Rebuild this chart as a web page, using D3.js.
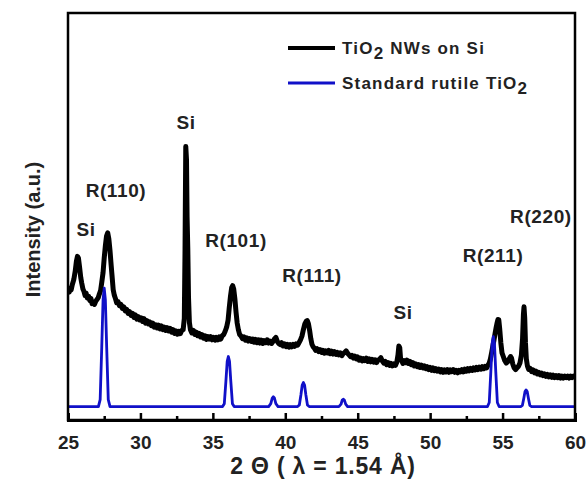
<!DOCTYPE html>
<html>
<head>
<meta charset="utf-8">
<script src="https://cdn.jsdelivr.net/npm/d3@7"></script>
<style>
  html, body { margin: 0; padding: 0; background: #fff; }
  svg { display: block; }
  text { font-family: Arial, "Liberation Sans", sans-serif; font-weight: bold; }
</style>
</head>
<body>
<svg id="chart" width="587" height="490"></svg>
<script>
// ---- Data ----
const xTicks = [25, 30, 35, 40, 45, 50, 55, 60];
const xMinorTicks = [27.5, 32.5, 37.5, 42.5, 47.5, 52.5, 57.5];

// Black measured pattern: [2θ, intensity (a.u.)]
const nwSeries = [
[25.00,319],[25.08,314],[25.15,324],[25.22,320],[25.30,333],[25.40,345],[25.50,366],[25.58,390],[25.65,402],[25.72,398],
[25.80,375],[25.88,350],[25.95,336],[26.03,322],[26.10,316],[26.18,306],[26.25,312],[26.33,300],[26.42,304],[26.50,294],
[26.58,299],[26.66,286],[26.75,290],[26.83,284],[26.92,292],[27.00,296],[27.08,300],[27.17,310],[27.25,318],[27.33,338],
[27.42,362],[27.50,398],[27.58,428],[27.66,452],[27.74,460],[27.82,445],[27.90,416],[27.98,380],[28.05,350],[28.12,320],
[28.20,306],[28.28,298],[28.36,288],[28.45,291],[28.55,281],[28.65,284],[28.75,274],[28.85,278],[28.95,268],[29.05,272],
[29.15,262],[29.25,266],[29.35,257],[29.45,262],[29.55,252],[29.65,258],[29.75,248],[29.85,254],[29.95,246],[30.05,251],
[30.15,242],[30.25,249],[30.35,238],[30.45,244],[30.55,236],[30.65,241],[30.75,232],[30.85,238],[30.95,228],[31.05,234],
[31.15,226],[31.25,233],[31.35,224],[31.45,231],[31.55,222],[31.65,228],[31.75,220],[31.85,227],[31.95,219],[32.05,225],
[32.15,216],[32.25,222],[32.35,213],[32.45,219],[32.55,211],[32.65,218],[32.75,212],[32.85,220],[32.95,222],[33.03,250],
[33.08,420],[33.13,672],[33.18,640],[33.22,500],[33.27,420],[33.32,300],[33.38,240],[33.45,222],[33.55,214],[33.65,220],
[33.75,210],[33.85,216],[33.95,207],[34.05,213],[34.15,204],[34.25,210],[34.35,201],[34.45,207],[34.55,198],[34.65,205],
[34.75,199],[34.85,205],[34.95,197],[35.05,203],[35.15,196],[35.25,203],[35.35,197],[35.45,204],[35.55,199],[35.65,207],
[35.75,210],[35.85,218],[35.95,228],[36.05,245],[36.13,275],[36.22,305],[36.30,325],[36.37,330],[36.44,322],[36.52,298],
[36.60,265],[36.68,238],[36.76,222],[36.85,210],[36.95,206],[37.05,200],[37.15,204],[37.25,196],[37.35,202],[37.45,194],
[37.55,200],[37.65,193],[37.75,199],[37.85,191],[37.95,198],[38.05,190],[38.15,197],[38.25,189],[38.35,196],[38.45,188],
[38.55,195],[38.65,190],[38.75,197],[38.85,189],[38.95,194],[39.05,188],[39.15,193],[39.25,199],[39.35,203],[39.45,193],
[39.55,188],[39.65,185],[39.75,190],[39.85,182],[39.95,187],[40.05,180],[40.15,186],[40.25,179],[40.35,185],[40.45,180],
[40.55,186],[40.65,181],[40.75,187],[40.85,184],[40.95,190],[41.05,197],[41.15,206],[41.25,222],[41.35,236],[41.45,243],
[41.52,244],[41.60,236],[41.68,220],[41.76,200],[41.84,186],[41.92,180],[42.00,177],[42.10,171],[42.20,175],[42.30,168],
[42.40,173],[42.50,166],[42.60,171],[42.70,164],[42.80,170],[42.90,165],[43.00,171],[43.10,163],[43.20,169],[43.30,162],
[43.40,168],[43.50,161],[43.60,166],[43.70,160],[43.80,165],[43.90,158],[44.00,163],[44.10,166],[44.20,170],[44.30,164],
[44.40,160],[44.50,156],[44.60,159],[44.70,152],[44.80,157],[44.90,150],[45.00,155],[45.10,147],[45.20,152],[45.30,145],
[45.40,151],[45.50,146],[45.60,152],[45.70,144],[45.80,150],[45.90,143],[46.00,149],[46.10,142],[46.20,148],[46.30,141],
[46.40,147],[46.50,149],[46.60,153],[46.70,145],[46.80,140],[46.90,144],[47.00,136],[47.10,141],[47.20,134],[47.30,139],
[47.40,133],[47.50,138],[47.60,134],[47.70,142],[47.78,160],[47.84,182],[47.90,178],[47.96,150],[48.04,145],[48.12,139],
[48.20,146],[48.30,141],[48.40,147],[48.50,139],[48.60,144],[48.70,136],[48.80,141],[48.90,133],[49.00,138],[49.10,131],
[49.20,136],[49.30,129],[49.40,135],[49.50,128],[49.60,133],[49.70,126],[49.80,131],[49.90,124],[50.00,129],[50.10,122],
[50.20,128],[50.30,121],[50.40,126],[50.50,120],[50.60,125],[50.70,118],[50.80,124],[50.90,117],[51.00,123],[51.10,118],
[51.20,124],[51.30,117],[51.40,123],[51.50,119],[51.60,124],[51.70,117],[51.80,122],[51.90,116],[52.00,122],[52.10,118],
[52.20,124],[52.30,118],[52.40,125],[52.50,120],[52.60,126],[52.70,121],[52.80,127],[52.90,122],[53.00,128],[53.10,123],
[53.20,129],[53.30,124],[53.40,130],[53.50,125],[53.60,131],[53.70,126],[53.80,132],[53.90,128],[54.00,135],[54.08,140],
[54.16,150],[54.24,165],[54.32,180],[54.40,195],[54.48,212],[54.56,228],[54.62,238],[54.68,247],[54.74,246],[54.80,225],
[54.88,190],[54.96,165],[55.05,156],[55.15,146],[55.25,140],[55.35,143],[55.45,150],[55.55,156],[55.62,152],[55.70,138],
[55.80,128],[55.90,124],[56.00,128],[56.10,132],[56.20,140],[56.30,160],[56.38,200],[56.44,260],[56.48,278],[56.53,250],
[56.58,190],[56.64,150],[56.72,132],[56.80,124],[56.90,127],[57.00,119],[57.10,123],[57.20,116],[57.30,120],[57.40,113],
[57.50,117],[57.60,111],[57.70,115],[57.80,109],[57.90,113],[58.00,107],[58.10,112],[58.20,106],[58.30,111],[58.40,105],
[58.50,110],[58.60,104],[58.70,109],[58.80,104],[58.90,109],[59.00,103],[59.10,108],[59.20,103],[59.30,108],[59.40,104],
[59.50,108],[59.60,103],[59.70,108],[59.80,104],[59.90,108],[60.00,105]
];

// Blue standard rutile pattern: [2θ, intensity (a.u.)]
const rutileSeries = [
[25.00,33],
[27.10,33],[27.22,50],[27.33,179],[27.42,295],[27.50,324],[27.58,295],[27.67,179],[27.78,50],[27.90,33],
[35.67,33],[35.79,40],[35.90,95],[35.99,144],[36.07,156],[36.15,144],[36.24,95],[36.35,40],[36.47,33],
[38.85,33],[39.00,40],[39.10,54],[39.17,57],[39.25,54],[39.35,40],[39.50,33],
[40.85,33],[40.97,37],[41.08,62],[41.17,86],[41.25,92],[41.33,86],[41.42,62],[41.53,37],[41.65,33],
[43.70,33],[43.85,39],[43.93,49],[44.00,51],[44.08,49],[44.17,39],[44.30,33],
[53.96,33],[54.08,43],[54.19,119],[54.28,188],[54.36,205],[54.44,188],[54.53,119],[54.64,43],[54.76,33],
[56.25,33],[56.37,36],[56.47,54],[56.55,70],[56.62,74],[56.70,70],[56.78,54],[56.88,36],[57.00,33],
[60.00,33]
];

// Peak annotations: [label, 2θ, intensity]
const peakLabels = [
["Si", 26.24, 467],
["R(110)", 28.31, 565],
["Si", 33.15, 732],
["R(101)", 36.6, 442],
["R(111)", 41.84, 356],
["Si", 48.13, 265],
["R(211)", 54.34, 405],
["R(220)", 57.65, 499]
];

const seriesNames = ["TiO2 NWs on Si", "Standard rutile TiO2"];
const seriesColors = ["#000000", "#1010c8"];

// ---- Layout ----
const W = 587, H = 490;
const margin = {left: 68, top: 13, right: 12, bottom: 70};
const iw = W - margin.left - margin.right;
const ih = H - margin.top - margin.bottom;

const svg = d3.select("#chart");
const g = svg.append("g").attr("transform", `translate(${margin.left},${margin.top})`);

const x = d3.scaleLinear().domain([25, 60]).range([0, iw]);
const y = d3.scaleLinear().domain([0, 1000]).range([ih, 0]);

const line = d3.line().x(d => x(d[0])).y(d => y(d[1]));

// Clip
svg.append("defs").append("clipPath").attr("id", "clip")
  .append("rect").attr("x", 0).attr("y", 0).attr("width", iw).attr("height", ih);

const plot = g.append("g").attr("clip-path", "url(#clip)");

plot.append("path").datum(nwSeries)
  .attr("d", line).attr("fill", "none")
  .attr("stroke", seriesColors[0]).attr("stroke-width", 5)
  .attr("stroke-linejoin", "round");

plot.append("path").datum(rutileSeries)
  .attr("d", line).attr("fill", "none")
  .attr("stroke", seriesColors[1]).attr("stroke-width", 2.8)
  .attr("stroke-linejoin", "round");

// Frame
g.append("rect").attr("x", 0).attr("y", 0).attr("width", iw).attr("height", ih)
  .attr("fill", "none").attr("stroke", "#000").attr("stroke-width", 2.5);

// Bottom axis (ticks inward)
const xAxis = d3.axisBottom(x).tickValues(xTicks).tickSize(-7).tickPadding(16).tickFormat(d3.format("d"));
const ax = g.append("g").attr("transform", `translate(0,${ih})`).call(xAxis);
ax.select(".domain").attr("stroke", "#000").attr("stroke-width", 3);
ax.selectAll(".tick line").attr("stroke", "#000").attr("stroke-width", 2.5);
ax.selectAll(".tick text").attr("font-size", 19).attr("font-weight", "bold")
  .attr("font-family", "Arial, 'Liberation Sans', sans-serif").attr("fill", "#222");

const xMinor = d3.axisBottom(x).tickValues(xMinorTicks).tickSize(-4).tickFormat("");
const axm = g.append("g").attr("transform", `translate(0,${ih})`).call(xMinor);
axm.select(".domain").remove();
axm.selectAll(".tick line").attr("stroke", "#000").attr("stroke-width", 2.5);

// Axis titles
svg.append("text")
  .attr("transform", `translate(33,${margin.top + ih / 2 + 13}) rotate(-90)`)
  .attr("text-anchor", "middle").attr("dominant-baseline", "central")
  .attr("font-size", 20).attr("fill", "#222")
  .text("Intensity (a.u.)");

svg.append("text")
  .attr("x", 323).attr("y", 466)
  .attr("text-anchor", "middle").attr("dominant-baseline", "central")
  .attr("font-size", 23).attr("fill", "#222").attr("letter-spacing", 0.8)
  .text("2 \u0398 ( \u03bb = 1.54 \u00c5)");

// Peak labels
g.selectAll(".plabel").data(peakLabels).enter().append("text")
  .attr("class", "plabel")
  .attr("x", d => x(d[1])).attr("y", d => y(d[2]))
  .attr("text-anchor", "middle").attr("dominant-baseline", "central")
  .attr("font-size", 19).attr("fill", "#222").attr("letter-spacing", 0.6)
  .text(d => d[0]);

// Legend
const legend = svg.append("g");
const legY = [48, 83];
seriesNames.forEach((name, i) => {
  legend.append("line").attr("x1", 288).attr("x2", 335)
    .attr("y1", legY[i]).attr("y2", legY[i])
    .attr("stroke", seriesColors[i]).attr("stroke-width", i === 0 ? 4 : 3);
  const t = legend.append("text").attr("x", 342).attr("y", legY[i])
    .attr("dominant-baseline", "central").attr("font-size", 17).attr("fill", "#222")
    .attr("letter-spacing", 1.2);
  const parts = name.split("TiO2");
  t.append("tspan").text(parts[0]);
  t.append("tspan").text("TiO");
  t.append("tspan").attr("dy", 5).attr("font-size", 17).text("2");
  if (parts[1]) t.append("tspan").attr("dy", -5).text(parts[1]);
});
</script>
</body>
</html>
